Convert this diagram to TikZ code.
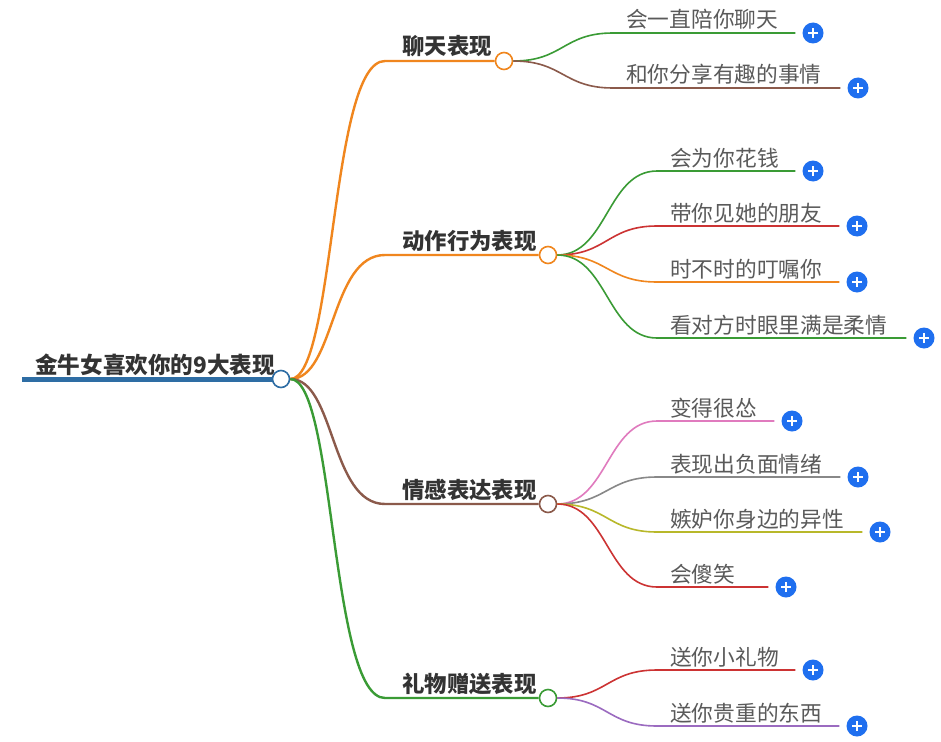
\documentclass[tikz,border=0pt]{standalone}
\usepackage{fontspec}
\setmainfont{Noto Sans CJK SC}
\usepackage{xcolor}
\usetikzlibrary{positioning}

\definecolor{rootblue}{HTML}{2E6DA4}
\definecolor{branchorange}{HTML}{F0861E}
\definecolor{branchbrown}{HTML}{8B5A4B}
\definecolor{branchgreen}{HTML}{3A9B35}
\definecolor{leafgreen}{HTML}{3A9B35}
\definecolor{leafbrown}{HTML}{8B5A4B}
\definecolor{leaforange}{HTML}{F0861E}
\definecolor{leafred}{HTML}{CC3333}
\definecolor{leafpink}{HTML}{E07BBE}
\definecolor{leafgray}{HTML}{888888}
\definecolor{leafolive}{HTML}{B8B82A}
\definecolor{leafpurple}{HTML}{9B6BC0}
\definecolor{plusblue}{HTML}{1F6FEF}
\definecolor{textdark}{HTML}{333333}
\definecolor{textgray}{HTML}{5A5A5A}

\begin{document}
\begin{tikzpicture}[x=1pt, y=-1pt,
  hub/.style={circle, draw=#1, fill=white, line width=1.6pt,
              minimum size=17pt, inner sep=0pt},
  plus/.style={circle, fill=plusblue, minimum size=21pt, inner sep=0pt,
               path picture={\draw[white, line width=2pt]
                 (path picture bounding box.center) +(-5pt,0) -- +(5pt,0)
                 (path picture bounding box.center) +(0,-5pt) -- +(0,5pt);}},
  mainlbl/.style={font=\fontsize{22.4}{25}\selectfont\bfseries, text=textdark,
                  anchor=base west, inner sep=0pt},
  leaflbl/.style={font=\fontsize{21.7}{24}\selectfont, text=textgray,
                  anchor=base west, inner sep=0pt},
  trunk/.style={line width=2.4pt},
  twig/.style={line width=1.6pt}
]
\useasboundingbox[fill=white] (0,0) rectangle (941,741);

% root
\coordinate (rs) at (22,379);
\node[hub=rootblue] (root) at (281,379) {};
\draw[rootblue, line width=5pt] (rs) -- (root.west);
\node[mainlbl, font=\fontsize{22.6}{25}\selectfont\bfseries] (rootlbl) at (35,373) {金牛女喜欢你的9大表现};

% main branches
\node[hub=branchorange] (t1) at (504,61) {};
\node[hub=branchorange] (t2) at (548,255) {};
\node[hub=branchbrown] (t3) at (548,504) {};
\node[hub=branchgreen] (t4) at (548,698) {};
\node[mainlbl] (t1lbl) at (402,55) {聊天表现};
\node[mainlbl] (t2lbl) at (402,249) {动作行为表现};
\node[mainlbl] (t3lbl) at (402,498) {情感表达表现};
\node[mainlbl] (t4lbl) at (402,692) {礼物赠送表现};
\coordinate (t1s) at (385,61);
\coordinate (t2s) at (385,255);
\coordinate (t3s) at (385,504);
\coordinate (t4s) at (385,698);
\draw[trunk, branchorange] (root.east) .. controls +(45,0) and +(-55,0) .. (t1s) -- (t1.west);
\draw[trunk, branchorange] (root.east) .. controls +(45,0) and +(-55,0) .. (t2s) -- (t2.west);
\draw[trunk, branchbrown] (root.east) .. controls +(45,0) and +(-55,0) .. (t3s) -- (t3.west);
\draw[trunk, branchgreen] (root.east) .. controls +(45,0) and +(-55,0) .. (t4s) -- (t4.west);

% chat
\coordinate (a1s) at (613,33);
\coordinate (a2s) at (613,88);
\node[leaflbl] (a1) at (626,28) {会一直陪你聊天};
\node[leaflbl] (a2) at (626,83) {和你分享有趣的事情};
\node[plus] (a1p) at (813,33) {};
\node[plus] (a2p) at (858,88) {};
\draw[twig, leafgreen] (t1.east) .. controls +(50,0) and +(-50,0) .. (a1s) -- ([xshift=-7pt]a1p.west);
\draw[twig, leafbrown] (t1.east) .. controls +(50,0) and +(-50,0) .. (a2s) -- ([xshift=-7pt]a2p.west);

% actions
\coordinate (b1s) at (657,171);
\coordinate (b2s) at (657,226);
\coordinate (b3s) at (657,282);
\coordinate (b4s) at (657,338);
\node[leaflbl] (b1) at (670,166) {会为你花钱};
\node[leaflbl] (b2) at (670,221) {带你见她的朋友};
\node[leaflbl] (b3) at (670,277) {时不时的叮嘱你};
\node[leaflbl] (b4) at (670,333) {看对方时眼里满是柔情};
\node[plus] (b1p) at (813,171) {};
\node[plus] (b2p) at (857,226) {};
\node[plus] (b3p) at (857,282) {};
\node[plus] (b4p) at (924,338) {};
\draw[twig, leafgreen] (t2.east) .. controls +(50,0) and +(-50,0) .. (b1s) -- ([xshift=-7pt]b1p.west);
\draw[twig, leafred] (t2.east) .. controls +(50,0) and +(-50,0) .. (b2s) -- ([xshift=-7pt]b2p.west);
\draw[twig, leaforange] (t2.east) .. controls +(50,0) and +(-50,0) .. (b3s) -- ([xshift=-7pt]b3p.west);
\draw[twig, leafgreen] (t2.east) .. controls +(50,0) and +(-50,0) .. (b4s) -- ([xshift=-7pt]b4p.west);

% feelings
\coordinate (c1s) at (657,421);
\coordinate (c2s) at (657,477);
\coordinate (c3s) at (657,532);
\coordinate (c4s) at (657,587);
\node[leaflbl] (c1) at (670,416) {变得很怂};
\node[leaflbl] (c2) at (670,472) {表现出负面情绪};
\node[leaflbl] (c3) at (670,527) {嫉妒你身边的异性};
\node[leaflbl] (c4) at (670,582) {会傻笑};
\node[plus] (c1p) at (792,421) {};
\node[plus] (c2p) at (858,477) {};
\node[plus] (c3p) at (880,532) {};
\node[plus] (c4p) at (786,587) {};
\draw[twig, leafpink] (t3.east) .. controls +(50,0) and +(-50,0) .. (c1s) -- ([xshift=-7pt]c1p.west);
\draw[twig, leafgray] (t3.east) .. controls +(50,0) and +(-50,0) .. (c2s) -- ([xshift=-7pt]c2p.west);
\draw[twig, leafolive] (t3.east) .. controls +(50,0) and +(-50,0) .. (c3s) -- ([xshift=-7pt]c3p.west);
\draw[twig, leafred] (t3.east) .. controls +(50,0) and +(-50,0) .. (c4s) -- ([xshift=-7pt]c4p.west);

% gifts
\coordinate (d1s) at (657,670);
\coordinate (d2s) at (657,726);
\node[leaflbl] (d1) at (670,665) {送你小礼物};
\node[leaflbl] (d2) at (670,721) {送你贵重的东西};
\node[plus] (d1p) at (813,670) {};
\node[plus] (d2p) at (857,726) {};
\draw[twig, leafred] (t4.east) .. controls +(50,0) and +(-50,0) .. (d1s) -- ([xshift=-7pt]d1p.west);
\draw[twig, leafpurple] (t4.east) .. controls +(50,0) and +(-50,0) .. (d2s) -- ([xshift=-7pt]d2p.west);
\end{tikzpicture}
\end{document}
